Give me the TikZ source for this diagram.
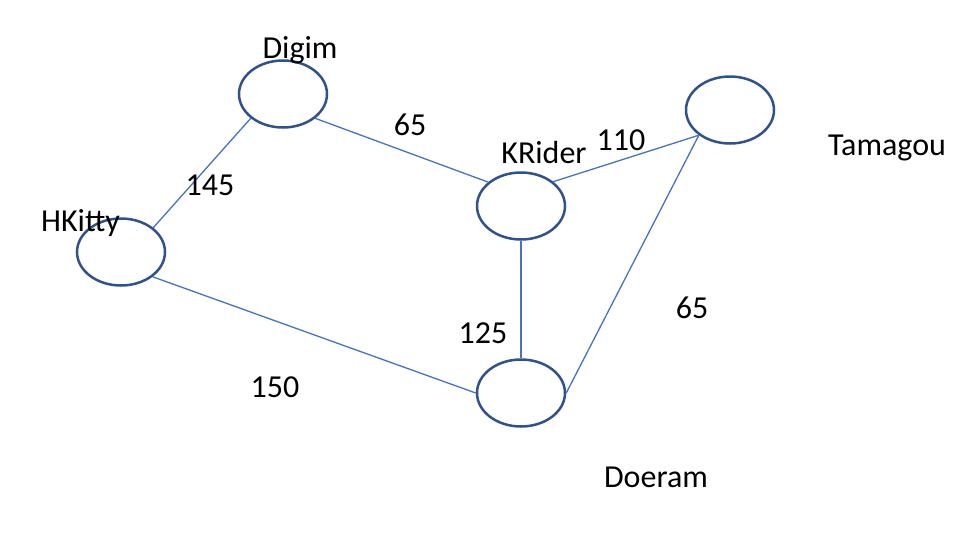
\documentclass[tikz,border=0pt]{standalone}
\usepackage{fontspec}
\setmainfont{Carlito}
\usetikzlibrary{shapes,positioning}
\definecolor{ovalblue}{HTML}{2F528F}
\definecolor{edgeblue}{HTML}{4472C4}

\begin{document}
\begin{tikzpicture}[x=1pt,y=-1pt]
  \tikzset{NodeStyle/.style = {shape          = ellipse,
                               draw           = ovalblue,
                               line width     = 2.5pt,
                               minimum width  = 88pt,
                               minimum height = 67pt,
                               inner sep      = 0pt}}
  \tikzset{NameStyle/.style = {anchor = base, inner sep = 0pt,
                               text = black,
                               font = \fontsize{32}{38}\selectfont}}
  \tikzset{EdgeStyle/.style = {draw = edgeblue, line width = 1.3pt}}
  \useasboundingbox (0,0) rectangle (978,560);
	%%% NOEUDS %%%
	\node[NodeStyle](digim) at (283,94){};
	\node[NodeStyle](hkitty) at (121,252){};
	\node[NodeStyle](krider) at (521,206){};
	\node[NodeStyle](tamagou) at (730,110){};
	\node[NodeStyle](doeram) at (521,393){};
	%%% ARETES %%%
	\draw[EdgeStyle](digim.217) to (hkitty.37);
	\draw[EdgeStyle](digim.323) to (krider.144);
	\draw[EdgeStyle](krider.37) to (tamagou.219);
	\draw[EdgeStyle](krider) to (doeram);
	\draw[EdgeStyle](tamagou.219) to (doeram.east);
	\draw[EdgeStyle](hkitty.322) to (doeram.west);
	%%% NOMS %%%
	\node[NameStyle](digimname) at (300,58){Digim};
	\node[NameStyle](hkittyname) at (80.5,231){HKitty};
	\node[NameStyle](kridername) at (544,163){KRider};
	\node[NameStyle](tamagouname) at (887,155){Tamagou};
	\node[NameStyle](doeramname) at (656,487){Doeram};
	%%% POIDS %%%
	\node[NameStyle](wdh) at (210,195){145};
	\node[NameStyle](wdk) at (410,135){65};
	\node[NameStyle](wkt) at (621,150){110};
	\node[NameStyle](wkd) at (483,343){125};
	\node[NameStyle](wtd) at (692,318){65};
	\node[NameStyle](whd) at (275,397){150};
\end{tikzpicture}
\end{document}
